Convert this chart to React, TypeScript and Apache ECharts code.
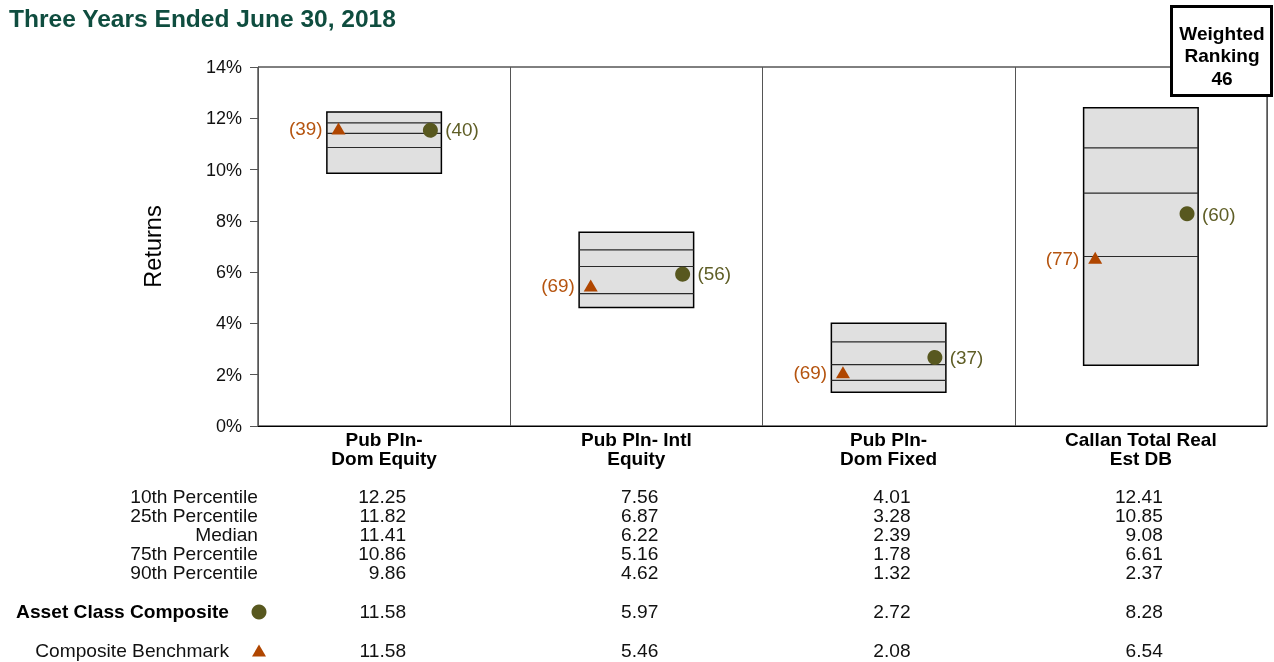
import { useEffect, useRef } from "react";
import * as echarts from "echarts";

const FONT = "'Liberation Sans', Arial, Helvetica, sans-serif";

const titleText = "Three Years Ended June 30, 2018";
const categories = ["Pub Pln-\nDom Equity", "Pub Pln- Intl\nEquity", "Pub Pln-\nDom Fixed", "Callan Total Real\nEst DB"];
const p10 = [12.25, 7.56, 4.01, 12.41];
const p25 = [11.82, 6.87, 3.28, 10.85];
const median = [11.41, 6.22, 2.39, 9.08];
const p75 = [10.86, 5.16, 1.78, 6.61];
const p90 = [9.86, 4.62, 1.32, 2.37];
const composite = [11.58, 5.97, 2.72, 8.28];
const compositeRank = [40, 56, 37, 60];
const benchmark = [11.58, 5.46, 2.08, 6.54];
const benchmarkRank = [39, 69, 69, 77];
const percentileLabels = ["10th Percentile", "25th Percentile", "Median", "75th Percentile", "90th Percentile"];
const compositeLabel = "Asset Class Composite";
const benchmarkLabel = "Composite Benchmark";
const weightedRanking = 46;

const CIRCLE = "#58581f";
const CIRCLE_TEXT = "#5f5e26";
const TRI = "#b04600";
const TRI_TEXT = "#b5540f";
const SX = 1.065;

export default function App() {
  const ref = useRef<HTMLDivElement>(null);
  useEffect(() => {
    document.body.style.margin = "0";
    const chart = echarts.init(ref.current!, null, { renderer: "svg" });

    const boxData = categories.map((_, i) => [i, p10[i], p25[i], median[i], p75[i], p90[i]]);
    const compData = categories.map((_, i) => [i, composite[i], compositeRank[i]]);
    const benchData = categories.map((_, i) => [i, benchmark[i], benchmarkRank[i]]);

    const renderBox = (params: any, api: any) => {
      const i = api.value(0);
      const band = api.size([1, 0])[0];
      const half = band * 0.227;
      const cx = api.coord([i, 0])[0];
      const yTop = api.coord([i, api.value(1)])[1];
      const yBot = api.coord([i, api.value(5)])[1];
      const inner = [2, 3, 4].map((k) => api.coord([i, api.value(k)])[1]);
      return {
        type: "group",
        children: [
          {
            type: "rect",
            shape: { x: cx - half, y: yTop, width: half * 2, height: yBot - yTop },
            style: { fill: "#e0e0e0", stroke: "#000", lineWidth: 1.5 },
          },
          ...inner.map((y) => ({
            type: "line",
            shape: { x1: cx - half, y1: y, x2: cx + half, y2: y },
            style: { stroke: "#2a2a2a", lineWidth: 1.2 },
          })),
        ],
      };
    };

    const renderComp = (params: any, api: any) => {
      const i = api.value(0);
      const band = api.size([1, 0])[0];
      const p = api.coord([i, api.value(1)]);
      const x = p[0] + band * 0.183;
      return {
        type: "group",
        children: [
          { type: "circle", shape: { cx: x, cy: p[1], r: 7.5 }, style: { fill: CIRCLE } },
          {
            type: "text",
            x: x + 15,
            y: p[1] + 1,
            scaleX: 1.05,
            style: {
              text: "(" + api.value(2) + ")",
              fill: CIRCLE_TEXT,
              fontSize: 18,
              fontFamily: FONT,
              align: "left",
              verticalAlign: "middle",
            },
          },
        ],
      };
    };

    const renderBench = (params: any, api: any) => {
      const i = api.value(0);
      const band = api.size([1, 0])[0];
      const p = api.coord([i, api.value(1)]);
      const x = p[0] - band * 0.181;
      const y = p[1];
      return {
        type: "group",
        children: [
          {
            type: "polygon",
            shape: { points: [[x, y - 6.5], [x - 7, y + 5.5], [x + 7, y + 5.5]] },
            style: { fill: TRI },
          },
          {
            type: "text",
            x: x - 16,
            y: y,
            scaleX: 1.05,
            style: {
              text: "(" + api.value(2) + ")",
              fill: TRI_TEXT,
              fontSize: 18,
              fontFamily: FONT,
              align: "right",
              verticalAlign: "middle",
            },
          },
        ],
      };
    };

    chart.setOption({
      animation: false,
      textStyle: { fontFamily: FONT },
      grid: { left: 258, right: 7, top: 67, bottom: 236, show: true, borderColor: "#000", borderWidth: 1 },
      xAxis: {
        type: "category",
        data: categories,
        axisLine: { lineStyle: { color: "#000", width: 1 } },
        axisTick: { show: false },
        splitLine: { show: true, lineStyle: { color: "#555", width: 1 } },
        axisLabel: {
          interval: 0,
          fontWeight: "bold",
          fontSize: 19,
          color: "#000",
          lineHeight: 19,
          margin: 4,
          fontFamily: FONT,
        },
      },
      yAxis: {
        type: "value",
        min: 0,
        max: 14,
        interval: 2,
        name: "Returns",
        nameLocation: "middle",
        nameRotate: 90,
        nameGap: 93,
        nameTextStyle: { fontSize: 23.5, color: "#000", fontFamily: FONT },
        axisLine: { show: true, lineStyle: { color: "#555" } },
        axisTick: { show: true, length: 8, lineStyle: { color: "#555" } },
        axisLabel: { formatter: "{value}%", fontSize: 18, color: "#111", margin: 16, fontFamily: FONT },
        splitLine: { show: false },
      },
      series: [
        { type: "custom", data: boxData, renderItem: renderBox, z: 2, silent: true },
        { type: "custom", data: benchData, renderItem: renderBench, z: 3, silent: true },
        { type: "custom", data: compData, renderItem: renderComp, z: 3, silent: true },
      ],
    });

    const centers = categories.map((_, i) => chart.convertToPixel({ xAxisIndex: 0 }, i) as number);
    const rowY = [497, 516, 535, 554, 573];
    const compY = 612;
    const benchY = 651;
    const txt = (text: string, x: number, y: number, align: string, bold = false, fill = "#111") => ({
      type: "text",
      x,
      y,
      z: 50,
      scaleX: SX,
      style: {
        text,
        fill,
        fontSize: 18,
        fontWeight: bold ? "bold" : "normal",
        fontFamily: FONT,
        align,
        verticalAlign: "middle",
      },
    });
    const graphics: any[] = [];
    graphics.push({
      type: "text",
      x: 9,
      y: 19,
      z: 50,
      scaleX: 1.045,
      style: {
        text: titleText,
        fill: "#0f4d3f",
        fontSize: 23.5,
        fontWeight: "bold",
        fontFamily: FONT,
        align: "left",
        verticalAlign: "middle",
      },
    });
    const rows = [p10, p25, median, p75, p90];
    percentileLabels.forEach((lab, r) => {
      graphics.push(txt(lab, 258, rowY[r], "right"));
      rows[r].forEach((v, i) => graphics.push(txt(v.toFixed(2), centers[i] + 22, rowY[r], "right")));
    });
    graphics.push(txt(compositeLabel, 229, compY, "right", true, "#000"));
    graphics.push({ type: "circle", z: 50, shape: { cx: 259, cy: compY, r: 7.5 }, style: { fill: CIRCLE } });
    composite.forEach((v, i) => graphics.push(txt(v.toFixed(2), centers[i] + 22, compY, "right")));
    graphics.push(txt(benchmarkLabel, 229, benchY, "right"));
    graphics.push({
      type: "polygon",
      z: 50,
      shape: { points: [[259, benchY - 6.5], [252, benchY + 5.5], [266, benchY + 5.5]] },
      style: { fill: TRI },
    });
    benchmark.forEach((v, i) => graphics.push(txt(v.toFixed(2), centers[i] + 22, benchY, "right")));

    graphics.push({
      type: "group",
      z: 100,
      children: [
        {
          type: "rect",
          shape: { x: 1171.5, y: 6.5, width: 100, height: 89 },
          style: { fill: "#fff", stroke: "#000", lineWidth: 3 },
        },
        {
          type: "text",
          x: 1222,
          y: 56,
          scaleX: 1.06,
          style: {
            text: "Weighted\nRanking\n" + weightedRanking,
            fill: "#000",
            fontSize: 18,
            fontWeight: "bold",
            fontFamily: FONT,
            lineHeight: 22.5,
            align: "center",
            verticalAlign: "middle",
          },
        },
      ],
    });

    chart.setOption({ graphic: graphics });

    return () => chart.dispose();
  }, []);

  return <div ref={ref} style={{ position: "fixed", left: 0, top: 0, width: 1274, height: 662 }} />;
}
